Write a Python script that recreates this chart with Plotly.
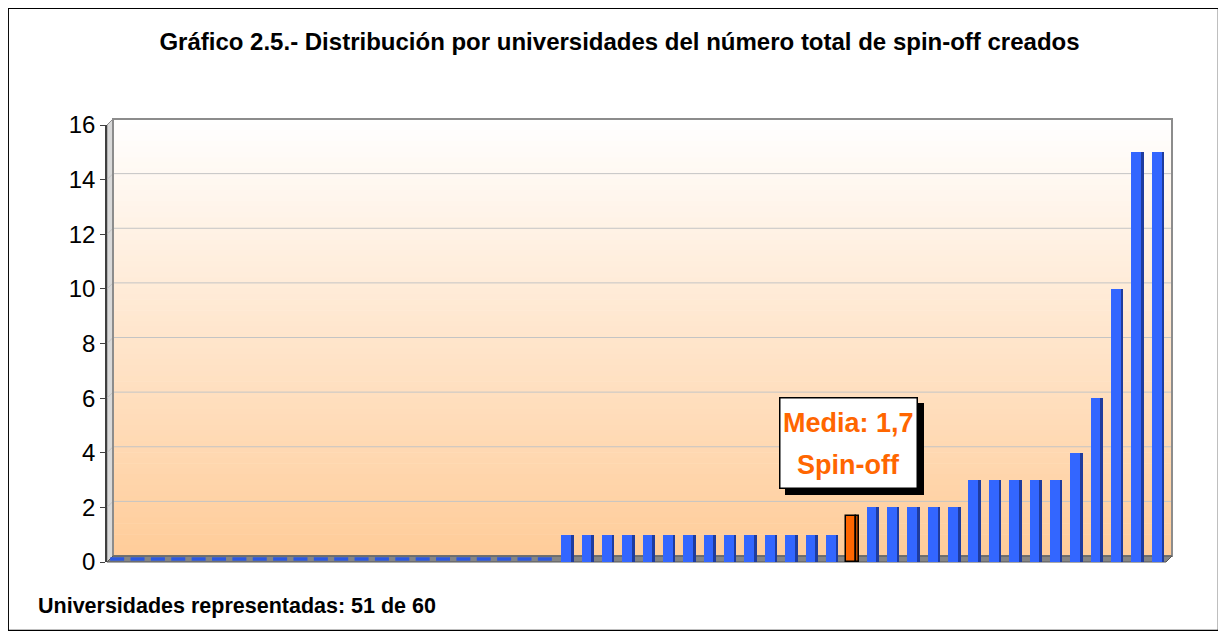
import plotly.graph_objects as go

# ---------------- data ----------------
universidades = ["U%02d" % i for i in range(1, 52)]
spinoffs = [0, 0, 0, 0, 0, 0, 0, 0, 0, 0, 0, 0, 0, 0, 0, 0, 0, 0, 0, 0, 0, 0,
            1, 1, 1, 1, 1, 1, 1, 1, 1, 1, 1, 1, 1, 1,
            2, 2, 2, 2, 2,
            3, 3, 3, 3, 3,
            4, 6, 10, 15, 15]
media = 1.7
media_label = "Media"
y_ticks = [0, 2, 4, 6, 8, 10, 12, 14, 16]

title_text = "Gráfico 2.5.- Distribución por universidades del número total de spin-off creados"
nota_text = "Universidades representadas: 51 de 60"
media_lines = ["Media: 1,7", "Spin-off"]

# ---------------- build ----------------
pos = sum(1 for v in spinoffs if v < media)
cats = universidades[:pos] + [media_label] + universidades[pos:]
vals = spinoffs[:pos] + [media] + spinoffs[pos:]

BLUE, BLUE_SIDE = "#3366FF", "#1F3C9E"
ORANGE, ORANGE_SIDE = "#FF6600", "#B84A00"
front_colors = [ORANGE if c == media_label else BLUE for c in cats]
side_colors = [ORANGE_SIDE if c == media_label else BLUE_SIDE for c in cats]
line_w = [1.5 if c == media_label else 0 for c in cats]

# page has an 8px body margin: work in window pixels, convert to figure pixels
OFF = 8
W, H = 1226 - 2 * OFF, 639 - 2 * OFF
L, R, T, B = 107 - OFF, 1166 - OFF, 125 - OFF, 562 - OFF
D = 6  # 3D depth in px
pw, ph = R - L, B - T
unit_px = ph / 16.0


def px(x):
    return (x - OFF - L) / pw


def py(y):
    return (B - (y - OFF)) / ph


FONT = "Arial, Liberation Sans, Helvetica, sans-serif"

fig = go.Figure()

fig.add_trace(go.Bar(
    x=cats, y=vals, width=0.48, offset=-0.2,
    marker=dict(color=front_colors, line=dict(color="black", width=line_w)),
    hoverinfo="x+y", showlegend=False,
))
fig.add_trace(go.Bar(
    x=cats, y=vals, width=0.13, offset=0.28,
    marker=dict(color=side_colors, line=dict(color="black", width=line_w)),
    hoverinfo="skip", showlegend=False,
))
# zero-valued bars: flat tops lying on the 3D floor (floor level = a few px above front edge)
zero_x = [c for c, v in zip(cats, vals) if v == 0]
fig.add_trace(go.Scatter(
    x=zero_x, y=[0] * len(zero_x), mode="markers", yaxis="y2",
    marker=dict(symbol="line-ew", size=10, line=dict(color="#2C58E0", width=3.5)),
    hoverinfo="skip", showlegend=False,
))

shapes = []
# gradient back wall
N = 80
top_c = (255, 255, 255)
bot_c = (255, 204, 153)
y_top, y_bot = 125 - D, 562 - D
for i in range(N):
    f = (i + 0.5) / N
    col = tuple(int(round(top_c[k] + (bot_c[k] - top_c[k]) * f)) for k in range(3))
    ya = y_top + (y_bot - y_top) * i / N
    yb = y_top + (y_bot - y_top) * (i + 1) / N + 0.6
    shapes.append(dict(type="rect", xref="paper", yref="paper", layer="below",
                       x0=px(107 + D), x1=px(1166 + D), y0=py(yb), y1=py(ya),
                       fillcolor="rgb(%d,%d,%d)" % col, line=dict(width=0)))
# left side wall
shapes.append(dict(type="path", xref="paper", yref="paper", layer="below",
                   path="M %f,%f L %f,%f L %f,%f L %f,%f Z" % (
                       px(107), py(562), px(107 + D), py(562 - D),
                       px(107 + D), py(125 - D), px(107), py(125)),
                   fillcolor="#D9D9D9", line=dict(color="#8C8C8C", width=1)))
# gridlines (back wall + side wall)
for v in y_ticks[1:-1]:
    shapes.append(dict(type="line", xref="paper", yref="y", layer="below",
                       x0=px(107 + D), x1=px(1166 + D), ysizemode="pixel", yanchor=v, y0=D, y1=D,
                       line=dict(color="#C4C4C4", width=1)))
    shapes.append(dict(type="line", xref="paper", yref="y", layer="below",
                       xsizemode="pixel", xanchor=0, x0=0, x1=D,
                       ysizemode="pixel", yanchor=v, y0=0, y1=D,
                       line=dict(color="#C4C4C4", width=1)))
# back wall outline
shapes.append(dict(type="rect", xref="paper", yref="paper", layer="below",
                   x0=px(107 + D), x1=px(1166 + D), y0=py(562 - D), y1=py(125 - D),
                   line=dict(color="#8C8C8C", width=2)))
# floor
shapes.append(dict(type="path", xref="paper", yref="paper", layer="below",
                   path="M %f,%f L %f,%f L %f,%f L %f,%f Z" % (
                       px(107), py(562), px(1166), py(562),
                       px(1166 + D), py(562 - D), px(107 + D), py(562 - D)),
                   fillcolor="#858585", line=dict(color="#555555", width=1)))
# outer frame
shapes.append(dict(type="rect", xref="paper", yref="paper", layer="above",
                   x0=px(8.2), x1=px(1218.5), y0=py(630.5), y1=py(8.2),
                   line=dict(color="black", width=1.5)))

annotations = []
# label box with shadow
for dx, dy, bg in [(6, -6, "black"), (0, 0, "white")]:
    annotations.append(dict(
        x=px(848), y=py(443), xref="paper", yref="paper", xshift=dx, yshift=dy,
        xanchor="center", yanchor="middle",
        text=" ", showarrow=False, width=136, height=89,
        bgcolor=bg, bordercolor="black", borderwidth=1.5, borderpad=0,
    ))
for line, yy in zip(media_lines, [423, 465]):
    annotations.append(dict(
        x=px(848), y=py(yy), xref="paper", yref="paper", xanchor="center", yanchor="middle",
        text="<b>%s</b>" % line, showarrow=False,
        font=dict(family=FONT, size=27, color="#FF6600"),
    ))
annotations.append(dict(
    x=px(36), y=py(606), xref="paper", yref="paper", xanchor="left", yanchor="middle",
    text="<b>%s</b>" % nota_text, showarrow=False,
    font=dict(family=FONT, size=21.5, color="black"),
))

floor_shift = 3.0 / unit_px  # floor surface sits ~3px above the front edge
fig.update_layout(
    width=W, height=H,
    margin=dict(l=L, r=W - R, t=T, b=H - B, pad=0),
    paper_bgcolor="white", plot_bgcolor="rgba(0,0,0,0)",
    barmode="overlay", bargap=0,
    title=dict(text="<b>%s</b>" % title_text, x=(619.5 - OFF) / W, xref="container",
               y=1 - (42 - OFF) / H, yref="container", xanchor="center", yanchor="middle",
               font=dict(family=FONT, size=24, color="black")),
    xaxis=dict(showticklabels=False, showgrid=False, zeroline=False, ticks="",
               showline=False, range=[-0.5, len(cats) - 0.5]),
    yaxis=dict(range=[0, 16], tickvals=y_ticks, ticktext=[str(v) for v in y_ticks],
               showgrid=False, zeroline=False, showline=True, linecolor="#404040", linewidth=1.5,
               ticks="outside", ticklen=5, tickcolor="#404040", tickwidth=1,
               tickfont=dict(family=FONT, size=24, color="black")),
    yaxis2=dict(overlaying="y", range=[-floor_shift, 16 - floor_shift], visible=False,
                showgrid=False, zeroline=False),
    shapes=shapes, annotations=annotations,
)

fig.write_html("out.html")
